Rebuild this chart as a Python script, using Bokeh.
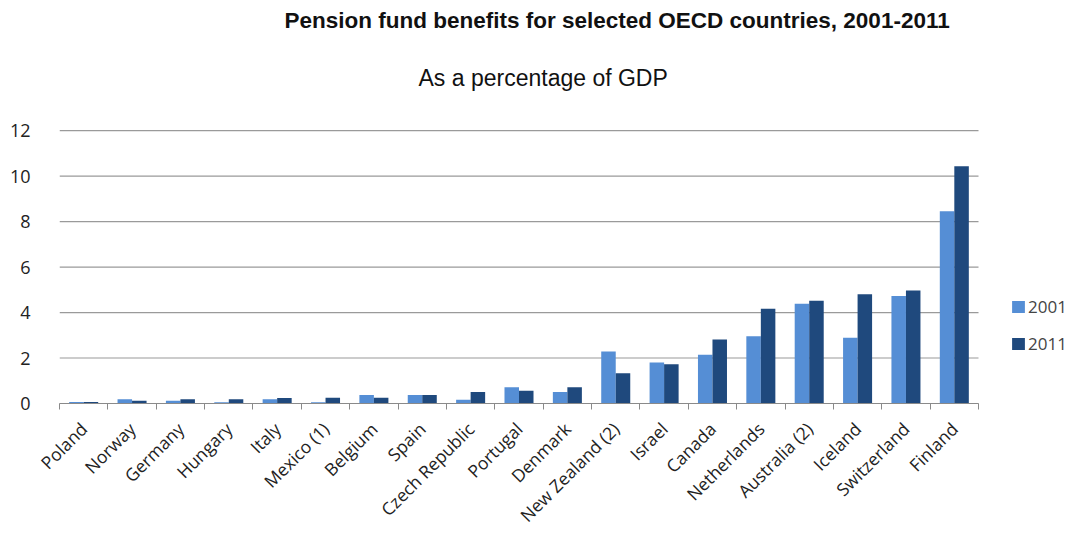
from math import pi
from bokeh.plotting import figure
from bokeh.models import (Range1d, LinearAxis, FixedTicker, Legend, LegendItem, Title,
                          ColumnDataSource, CustomLabelingPolicy)
from bokeh.transform import dodge
from bokeh.embed import file_html
from bokeh.resources import INLINE

countries = ["Poland", "Norway", "Germany", "Hungary", "Italy", "Mexico (1)", "Belgium",
             "Spain", "Czech Republic", "Portugal", "Denmark", "New Zealand (2)", "Israel",
             "Canada", "Netherlands", "Australia (2)", "Iceland", "Switzerland", "Finland"]
v2001 = [0.07, 0.19, 0.12, 0.05, 0.19, 0.05, 0.37, 0.37, 0.17, 0.71, 0.51, 2.29, 1.80,
         2.14, 2.96, 4.39, 2.89, 4.73, 8.46]
v2011 = [0.07, 0.12, 0.19, 0.19, 0.24, 0.25, 0.25, 0.37, 0.51, 0.56, 0.71, 1.33, 1.73,
         2.82, 4.17, 4.52, 4.80, 4.97, 10.43]
y_ticks = [0, 2, 4, 6, 8, 10, 12]

C2001 = "#558ED5"
C2011 = "#1F497D"
GRID = "#9a9a9a"
LABEL_FONT = "Open Sans"
TITLE_FONT = "Liberation Sans"

W, H = 1070, 538
LEFT, BAR_AREA_RIGHT, TOP, BOTTOM = 59, 978, 127, 130

n = len(countries)
centers = [i + 0.5 for i in range(n)]
x_end = n * (W - LEFT) / (BAR_AREA_RIGHT - LEFT)  # frame extends under the legend area
src = ColumnDataSource(dict(xc=centers, country=countries, v2001=v2001, v2011=v2011))
grid_src = ColumnDataSource(dict(y=y_ticks, x0=[0] * len(y_ticks), x1=[n] * len(y_ticks)))

p = figure(width=W, height=H, output_backend="svg", toolbar_location=None,
           x_range=Range1d(0, x_end), y_range=Range1d(0, 12.05),
           x_axis_location=None, y_axis_location=None,
           min_border_left=LEFT, min_border_right=0, min_border_top=TOP, min_border_bottom=BOTTOM)
p.outline_line_color = None
p.background_fill_color = "white"
p.xgrid.visible = False
p.ygrid.visible = False

# horizontal gridlines limited to the bar area
p.segment(x0="x0", x1="x1", y0="y", y1="y", source=grid_src, line_color=GRID, line_width=1.2)

# y axis (labels only)
yax = LinearAxis(ticker=FixedTicker(ticks=y_ticks), axis_line_color=None,
                 major_tick_line_color=None, minor_tick_line_color=None,
                 major_label_standoff=23, major_label_text_font=LABEL_FONT,
                 major_label_text_font_size="18px", major_label_text_color="#222222")
p.add_layout(yax, "left")

hide_labels = CustomLabelingPolicy(code="")

# boundary ticks axis (no labels)
tick_ax = LinearAxis(ticker=FixedTicker(ticks=list(range(n + 1))), bounds=(0, n),
                     axis_line_color="#8a8a8a", axis_line_width=1.2,
                     major_tick_line_color="#8a8a8a", major_tick_in=0, major_tick_out=6,
                     minor_tick_line_color=None, minor_tick_out=0,
                     major_label_policy=hide_labels, major_label_text_font_size="1px",
                     major_label_standoff=0)
p.add_layout(tick_ax, "below")

# category labels axis
cat_ax = LinearAxis(ticker=FixedTicker(ticks=centers),
                    major_label_overrides={c: name for c, name in zip(centers, countries)},
                    axis_line_color=None, major_tick_line_color=None, minor_tick_line_color=None,
                    major_tick_out=0, minor_tick_out=0,
                    major_label_orientation=pi / 4, major_label_standoff=12,
                    major_label_text_font=LABEL_FONT, major_label_text_font_size="17.5px",
                    major_label_text_color="#222222")
p.add_layout(cat_ax, "below")

r1 = p.vbar(x=dodge("xc", -0.15), top="v2001", width=0.3,
            source=src, fill_color=C2001, line_color=None)
r2 = p.vbar(x=dodge("xc", 0.15), top="v2011", width=0.3,
            source=src, fill_color=C2011, line_color=None)

legend = Legend(items=[LegendItem(label="2001", renderers=[r1]),
                       LegendItem(label="2011", renderers=[r2])],
                location=(951, 48), orientation="vertical",
                border_line_color=None, background_fill_alpha=0,
                glyph_width=16, glyph_height=15, spacing=14, padding=0, margin=0,
                label_text_font=LABEL_FONT, label_text_font_size="17px",
                label_standoff=2, label_height=23)
p.add_layout(legend, "center")

# invisible spacer between frame and subtitle (one hidden tick)
spacer = LinearAxis(ticker=FixedTicker(ticks=[n / 2]), axis_line_color=None,
                    major_tick_line_color=None, minor_tick_line_color=None,
                    major_tick_in=0, major_tick_out=10, minor_tick_out=0,
                    major_label_policy=hide_labels, major_label_text_font_size="1px",
                    major_label_standoff=0)
p.add_layout(spacer, "above")

sub = Title(text="As a percentage of GDP", align="left", offset=359, text_font=TITLE_FONT,
            text_font_size="23px", text_font_style="normal", text_color="#111111",
            standoff=50)
p.add_layout(sub, "above")
main = Title(text="Pension fund benefits for selected OECD countries, 2001-2011", align="left",
             offset=225, text_font=TITLE_FONT, text_font_size="22.5px", text_font_style="bold",
             text_color="#111111", standoff=10)
p.add_layout(main, "above")

open("out.html", "w").write(file_html(p, INLINE))
